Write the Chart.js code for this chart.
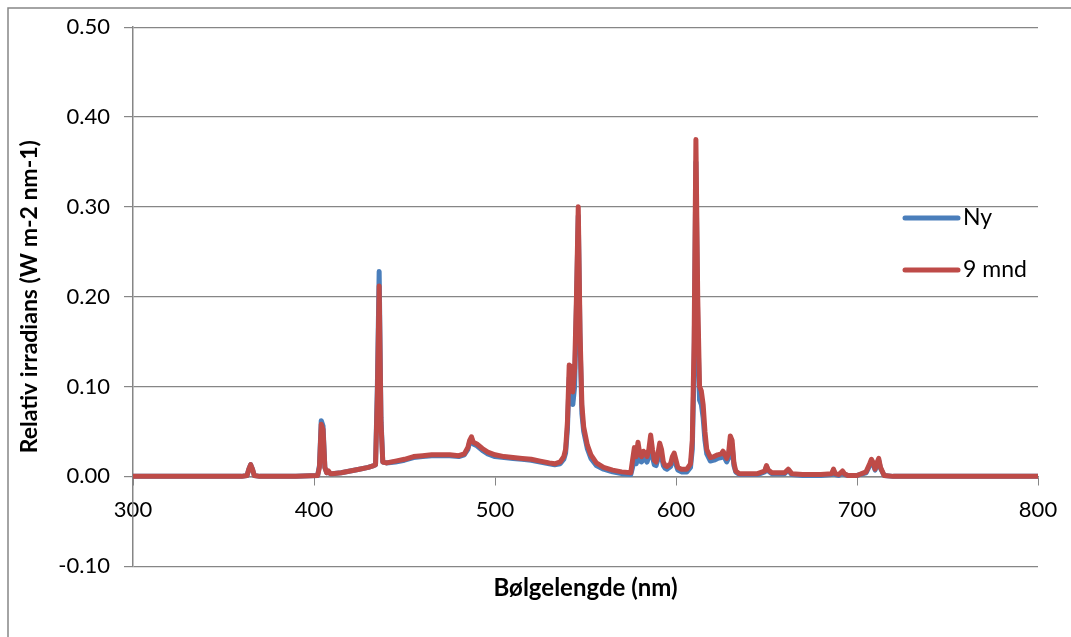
<!DOCTYPE html>
<html>
<head>
<meta charset="utf-8">
<script src="https://cdn.jsdelivr.net/npm/chart.js@4.4.1/dist/chart.umd.min.js"></script>
<style>
  body { margin: 0; background: #fff; }
  #wrap { width: 1071px; height: 637px; }
</style>
</head>
<body>
<div id="wrap"><canvas id="chart" width="1071" height="637"></canvas></div>
<script>
// wavelength (nm) of each sample
const wavelength = [
  300, 320, 340, 360, 363, 364, 365, 366, 367, 370, 390,
  402, 403, 404, 405, 406, 407, 408, 409, 410,
  415, 420, 425, 430, 433, 434, 435, 436, 437, 438,
  440, 445, 450, 455, 460, 465, 470, 475, 480, 483, 485, 486, 487, 488, 490, 493, 496,
  500, 505, 510, 515, 520, 525, 530, 533, 536, 538, 539,
  540, 541, 542, 543, 544, 545, 546, 547, 548, 549, 551, 553, 556,
  560, 565, 570, 575, 576, 577, 578, 579, 580, 581, 582, 583, 584, 585, 586, 587, 588, 589,
  590, 591, 592, 593, 594, 595, 597, 598, 599, 600, 601, 603, 606, 608, 609,
  610, 611, 612, 613, 614, 615, 616, 617, 619, 621, 623, 625, 626, 627, 628, 629,
  630, 631, 632, 633, 635, 640, 645, 649, 650, 651, 653, 660, 662, 664, 670, 680,
  686, 687, 688, 690, 692, 693, 695, 700, 705, 707, 708, 709, 710, 711, 712, 713, 715,
  720, 740, 760, 780, 800
];

const ny = [
  0, 0, 0, 0, 0.001, 0.008, 0.013, 0.008, 0.001, 0, 0,
  0.001, 0.012, 0.062, 0.056, 0.010, 0.004, 0.005, 0.003, 0.003,
  0.004, 0.006, 0.008, 0.010, 0.012, 0.013, 0.100, 0.228, 0.065, 0.016,
  0.015, 0.016, 0.018, 0.021, 0.022, 0.023, 0.023, 0.023, 0.022, 0.024, 0.030, 0.038, 0.042, 0.036, 0.034, 0.029, 0.025,
  0.022, 0.021, 0.020, 0.019, 0.018, 0.016, 0.014, 0.013, 0.014, 0.019, 0.026,
  0.052, 0.110, 0.100, 0.080, 0.100, 0.190, 0.290, 0.150, 0.070, 0.050, 0.031, 0.020, 0.012,
  0.008, 0.005, 0.003, 0.002, 0.010, 0.022, 0.014, 0.026, 0.017, 0.016, 0.020, 0.019, 0.016, 0.022, 0.036, 0.022, 0.013, 0.012,
  0.019, 0.028, 0.022, 0.012, 0.009, 0.008, 0.011, 0.018, 0.020, 0.013, 0.007, 0.005, 0.005, 0.010, 0.030,
  0.120, 0.350, 0.170, 0.085, 0.080, 0.065, 0.040, 0.025, 0.017, 0.018, 0.020, 0.021, 0.023, 0.020, 0.016, 0.020,
  0.040, 0.035, 0.012, 0.005, 0.002, 0.002, 0.002, 0.005, 0.011, 0.006, 0.003, 0.003, 0.007, 0.002, 0.001, 0.001,
  0.002, 0.007, 0.002, 0.001, 0.005, 0.002, 0.001, 0.001, 0.004, 0.012, 0.017, 0.013, 0.007, 0.013, 0.018, 0.009, 0.001,
  0, 0, 0, 0, 0
];

const mnd9 = [
  0, 0, 0, 0, 0.001, 0.008, 0.013, 0.008, 0.001, 0, 0,
  0.001, 0.010, 0.058, 0.052, 0.010, 0.004, 0.006, 0.003, 0.003,
  0.004, 0.006, 0.008, 0.010, 0.012, 0.013, 0.090, 0.212, 0.060, 0.016,
  0.015, 0.017, 0.019, 0.022, 0.023, 0.024, 0.024, 0.024, 0.023, 0.025, 0.032, 0.040, 0.044, 0.038, 0.036, 0.031, 0.027,
  0.024, 0.022, 0.021, 0.020, 0.019, 0.017, 0.015, 0.014, 0.016, 0.022, 0.030,
  0.060, 0.124, 0.122, 0.094, 0.120, 0.200, 0.300, 0.160, 0.080, 0.055, 0.035, 0.024, 0.015,
  0.010, 0.007, 0.005, 0.004, 0.018, 0.032, 0.022, 0.038, 0.025, 0.022, 0.028, 0.026, 0.022, 0.030, 0.046, 0.030, 0.018, 0.016,
  0.025, 0.037, 0.030, 0.016, 0.012, 0.011, 0.014, 0.022, 0.026, 0.018, 0.010, 0.008, 0.008, 0.014, 0.040,
  0.150, 0.375, 0.200, 0.100, 0.095, 0.080, 0.050, 0.030, 0.021, 0.022, 0.024, 0.025, 0.028, 0.024, 0.020, 0.025,
  0.045, 0.040, 0.015, 0.006, 0.003, 0.003, 0.003, 0.006, 0.012, 0.007, 0.004, 0.004, 0.008, 0.003, 0.002, 0.002,
  0.003, 0.008, 0.003, 0.002, 0.006, 0.003, 0.001, 0.001, 0.005, 0.014, 0.019, 0.015, 0.008, 0.015, 0.020, 0.010, 0.001,
  0, 0, 0, 0, 0
];

const seriesNames = ['Ny', '9 mnd'];
const seriesColors = ['#4A7EBB', '#BE4B48'];
const xTitle = 'Bølgelengde (nm)';
const yTitle = 'Relativ irradians (W m-2 nm-1)';

const FONT = 'Lato, "Open Sans", sans-serif';
const gridGray = '#868686';

function points(ys) {
  return wavelength.map((x, i) => ({ x: x, y: ys[i] }));
}

// outer chart frame
const framePlugin = {
  id: 'frame',
  beforeDraw(chart) {
    const ctx = chart.ctx;
    ctx.save();
    ctx.fillStyle = '#fff';
    ctx.fillRect(0, 0, chart.width, chart.height);
    ctx.strokeStyle = gridGray;
    ctx.lineWidth = 1.5;
    ctx.strokeRect(8, 8, 1100, 700);
    ctx.restore();
  }
};

// legend inside the plot, like the original
const legendPlugin = {
  id: 'sideLegend',
  afterDraw(chart) {
    const ctx = chart.ctx;
    ctx.save();
    ctx.font = '23px ' + FONT;
    ctx.textBaseline = 'middle';
    ctx.lineCap = 'round';
    ctx.lineWidth = 5;
    seriesNames.forEach((name, i) => {
      const y = 218 + i * 52;
      ctx.strokeStyle = seriesColors[i];
      ctx.beginPath();
      ctx.moveTo(905, y);
      ctx.lineTo(958, y);
      ctx.stroke();
      ctx.fillStyle = '#000';
      ctx.fillText(name, 963, y);
    });
    ctx.restore();
  }
};

new Chart(document.getElementById('chart'), {
  type: 'line',
  data: {
    datasets: [
      {
        label: seriesNames[0], data: points(ny), order: 1,
        borderColor: seriesColors[0], borderWidth: 5, pointRadius: 0,
        borderJoinStyle: 'round', borderCapStyle: 'round', tension: 0
      },
      {
        label: seriesNames[1], data: points(mnd9), order: 0,
        borderColor: seriesColors[1], borderWidth: 5, pointRadius: 0,
        borderJoinStyle: 'round', borderCapStyle: 'round', tension: 0
      }
    ]
  },
  options: {
    responsive: false,
    animation: false,
    layout: { padding: { left: 8, top: 25, right: 33, bottom: 34 } },
    plugins: { legend: { display: false }, tooltip: { enabled: false } },
    scales: {
      x: {
        type: 'linear', min: 300, max: 800,
        position: { y: 0 },
        ticks: { stepSize: 100, color: '#000', font: { family: FONT, size: 22 }, padding: 12, maxRotation: 0 },
        grid: { drawOnChartArea: false, tickLength: 8, color: gridGray },
        border: { color: gridGray, width: 1.5 }
      },
      x2: {
        type: 'linear', min: 300, max: 800, position: 'bottom',
        ticks: { display: false },
        grid: { display: false, drawTicks: false },
        border: { display: false },
        title: { display: true, text: xTitle, color: '#000', font: { family: FONT, size: 24, weight: 'bold' }, padding: { top: 8, bottom: 0 } }
      },
      y: {
        min: -0.1, max: 0.5,
        ticks: {
          stepSize: 0.1, color: '#000', font: { family: FONT, size: 22 }, padding: 14,
          callback: v => (Math.abs(v) < 1e-9 ? 0 : v).toFixed(2)
        },
        grid: { color: gridGray, tickLength: 9, lineWidth: 1.2 },
        border: { color: gridGray, width: 1.5 },
        title: { display: true, text: yTitle, color: '#000', font: { family: FONT, size: 23, weight: 'bold' }, padding: { top: 8, bottom: 0 } },
        afterFit: s => { s.width = 125; }
      }
    }
  },
  plugins: [framePlugin, legendPlugin]
});
</script>
</body>
</html>
